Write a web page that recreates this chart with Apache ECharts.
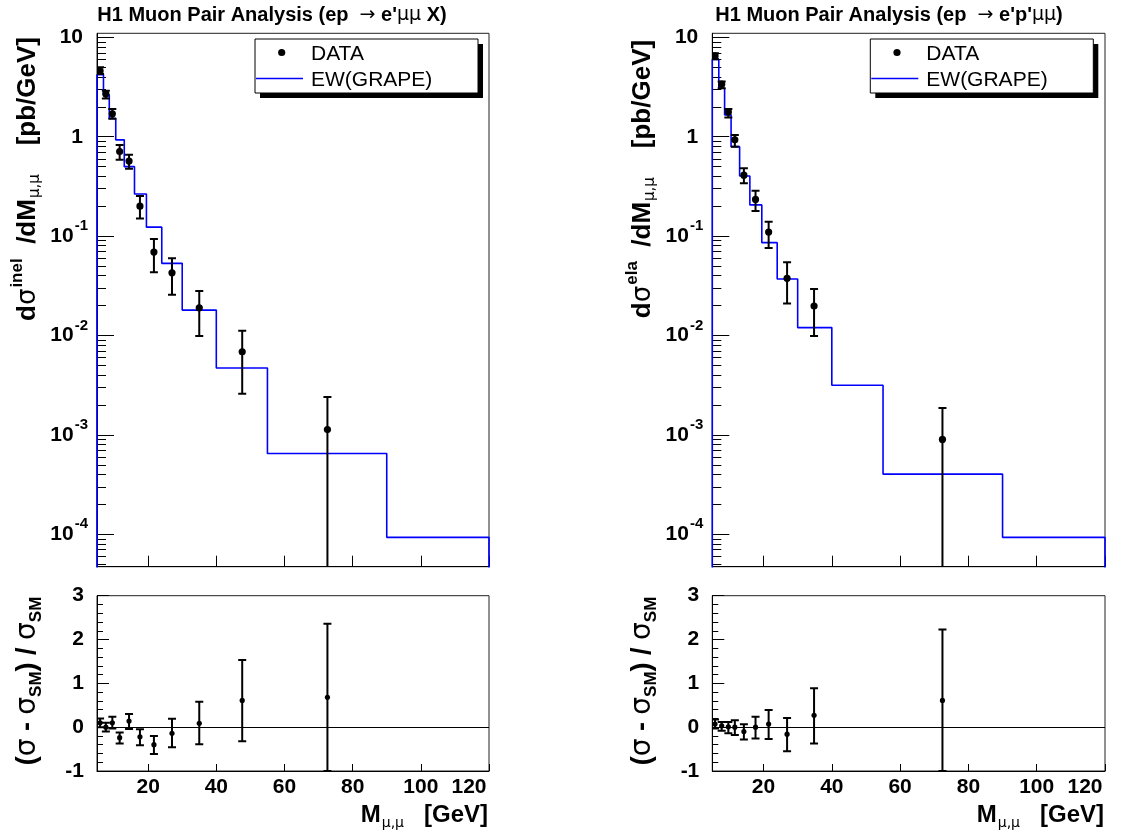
<!DOCTYPE html>
<html><head><meta charset="utf-8">
<script src="https://cdn.jsdelivr.net/npm/echarts@6/dist/echarts.min.js"></script>
<style>html,body{margin:0;padding:0;background:#fff}#c{width:1131px;height:838px}</style>
</head><body><div id="c"></div><script>
// ---------- data ----------
const binEdges = [5, 6.9, 8.6, 10.5, 13, 16, 19.5, 24, 30, 40, 55, 90, 120];
const xTickValues = [20, 40, 60, 80, 100, 120];
const logMajor = [1e-4, 1e-3, 1e-2, 1e-1, 1, 10];
const ratioTicks = [-1, 0, 1, 2, 3];

// inelastic (left)
const inelMass   = [5.9, 7.6, 9.5, 11.65, 14.4, 17.6, 21.7, 27.0, 35.0, 47.6, 72.6];
const inelXsec   = [4.6, 2.7, 1.70, 0.71, 0.57, 0.20, 0.069, 0.0428, 0.019, 0.00686, 0.00113];
const inelErrHi  = [5.0, 2.91, 1.905, 0.826, 0.66, 0.253, 0.0935, 0.0597, 0.028, 0.01114, 0.0024];
const inelErrLo  = [4.29, 2.42, 1.52, 0.587, 0.477, 0.150, 0.0432, 0.0257, 0.00986, 0.00259, 0];
const inelGrape  = [4.2, 2.65, 1.53, 0.93, 0.50, 0.265, 0.123, 0.0532, 0.018, 0.0047, 0.00065, 9.3e-5];
const inelRatio  = [0.10, 0.0, 0.10, -0.24, 0.14, -0.22, -0.40, -0.14, 0.09, 0.61, 0.68];
const inelRatHi  = [0.20, 0.10, 0.24, -0.12, 0.30, -0.05, -0.20, 0.19, 0.58, 1.53, 2.36];
const inelRatLo  = [0.0, -0.10, -0.03, -0.37, -0.04, -0.41, -0.61, -0.46, -0.39, -0.32, -1.0];

// elastic (right)
const elaMass    = [5.8, 7.75, 9.7, 11.6, 14.25, 17.66, 21.5, 26.9, 34.8, 72.4];
const elaXsec    = [6.5, 3.38, 1.77, 0.93, 0.41, 0.234, 0.11, 0.0376, 0.0198, 0.0009];
const elaErrHi   = [6.93, 3.59, 1.905, 1.04, 0.482, 0.286, 0.1396, 0.0545, 0.0293, 0.00186];
const elaErrLo   = [6.03, 3.08, 1.56, 0.795, 0.34, 0.179, 0.0759, 0.021, 0.0099, 0];
const elaGrape   = [6.0, 3.08, 1.66, 0.795, 0.403, 0.206, 0.0859, 0.0370, 0.0120, 0.00316, 0.000402, 9.3e-5];
const elaRatio   = [0.07, 0.03, 0.01, 0.0, -0.10, 0.0, 0.07, -0.16, 0.27, 0.61];
const elaRatHi   = [0.175, 0.12, 0.12, 0.16, 0.068, 0.24, 0.39, 0.21, 0.89, 2.23];
const elaRatLo   = [-0.03, -0.084, -0.14, -0.18, -0.28, -0.26, -0.27, -0.55, -0.37, -1.0];

// ---------- helpers ----------
const FONT = '"Liberation Sans", Arial, Helvetica, sans-serif';
const SYM = '"DejaVu Sans", sans-serif';
const YMIN = 4.71e-5, YMAX = 10.99;
const logMinor = [];
for (let e = -5; e <= 1; e++) for (let m = 2; m <= 9; m++) {
  const v = m * Math.pow(10, e);
  if (v > YMIN && v < YMAX) logMinor.push(v);
}

function histData(values) {
  const d = [[binEdges[0], 1e-9]];
  values.forEach((v, i) => d.push([binEdges[i], v]));
  d.push([binEdges[binEdges.length - 1], values[values.length - 1]]);
  d.push([binEdges[binEdges.length - 1], 1e-9]);
  return d;
}
function errData(xs, ys, lo, hi) { return xs.map((x, i) => [x, ys[i], lo[i], hi[i]]); }

function errRender(cap, r, logAxis) {
  return function (params, api) {
    const x = api.value(0), y = api.value(1);
    let lo = api.value(2), hi = api.value(3);
    if (logAxis && lo <= 0) lo = 1e-9;
    const pH = api.coord([x, hi]), pL = api.coord([x, lo]), p = api.coord([x, y]);
    const st = { stroke: '#000', lineWidth: 2 };
    return { type: 'group', children: [
      { type: 'line', shape: { x1: pH[0], y1: pH[1], x2: pL[0], y2: pL[1] }, style: st },
      { type: 'line', shape: { x1: pH[0] - cap, y1: pH[1], x2: pH[0] + cap, y2: pH[1] }, style: st },
      { type: 'line', shape: { x1: pL[0] - cap, y1: pL[1], x2: pL[0] + cap, y2: pL[1] }, style: st },
      { type: 'circle', shape: { cx: p[0], cy: p[1], r: r }, style: { fill: '#000' } }
    ] };
  };
}

const gridBase = { show: true, borderColor: '#222', borderWidth: 1, backgroundColor: 'transparent', containLabel: false, outerBoundsMode: 'none' };
const grids = [
  Object.assign({ left: 97, top: 33.3, width: 392, height: 533.4 }, gridBase),
  Object.assign({ left: 97, top: 595.7, width: 392, height: 175.3 }, gridBase),
  Object.assign({ left: 712.3, top: 33.3, width: 392.7, height: 533.4 }, gridBase),
  Object.assign({ left: 712.3, top: 595.7, width: 392.7, height: 175.3 }, gridBase)
];

function xAxis(gi, labels) {
  return {
    type: 'value', gridIndex: gi, min: 5, max: 120, position: 'bottom',
    axisLine: { show: true, onZero: false, lineStyle: { color: '#000', width: 1 } },
    axisTick: { show: true, inside: true, length: labels ? 7 : 11, customValues: xTickValues, lineStyle: { color: '#000', width: 1 } },
    axisLabel: {
      show: labels, customValues: xTickValues, margin: 6, color: '#000',
      formatter: v => v === 120 ? '{r|120}' : '{n|' + v + '}',
      rich: {
        n: { fontFamily: FONT, fontWeight: 'bold', fontSize: 21, color: '#000' },
        r: { fontFamily: FONT, fontWeight: 'bold', fontSize: 21, color: '#000', padding: [0, 40, 0, 0] }
      }
    },
    splitLine: { show: false }
  };
}

function logAxisMajor(gi) {
  return {
    type: 'log', logBase: 10, gridIndex: gi, min: YMIN, max: YMAX, position: 'left', offset: 0,
    axisLine: { show: true, onZero: false, lineStyle: { color: '#000', width: 1 } },
    axisTick: { show: true, inside: true, length: 17, customValues: logMajor, lineStyle: { color: '#000', width: 1 } },
    axisLabel: {
      show: true, customValues: logMajor, margin: 9, color: '#000',
      formatter: v => {
        const e = Math.round(Math.log10(v));
        if (e === 1) return '{p|10}';
        if (e === 0) return '{p|1}';
        return '{b|10}{s|' + e + '}';
      },
      rich: {
        p: { fontFamily: FONT, fontWeight: 'bold', fontSize: 21, color: '#000', padding: [0, 5, 0, 0] },
        b: { fontFamily: FONT, fontWeight: 'bold', fontSize: 21, color: '#000' },
        s: { fontFamily: FONT, fontWeight: 'bold', fontSize: 15, color: '#000', padding: [0, 0, 20, 1] }
      }
    },
    splitLine: { show: false }
  };
}
function logAxisMinor(gi) {
  return {
    type: 'log', logBase: 10, gridIndex: gi, min: YMIN, max: YMAX, position: 'left', offset: 0,
    axisLine: { show: false },
    axisTick: { show: true, inside: true, length: 9, customValues: logMinor, lineStyle: { color: '#000', width: 1 } },
    axisLabel: { show: false },
    splitLine: { show: false }
  };
}
function ratioAxis(gi) {
  return {
    type: 'value', gridIndex: gi, min: -1, max: 3, interval: 1, position: 'left',
    axisLine: { show: true, onZero: false, lineStyle: { color: '#000', width: 1 } },
    axisTick: { show: true, inside: true, length: 12, lineStyle: { color: '#000', width: 1 } },
    minorTick: { show: true, splitNumber: 5, length: 6, lineStyle: { color: '#000', width: 1 } },
    axisLabel: { show: true, margin: 13, color: '#000', fontFamily: FONT, fontWeight: 'bold', fontSize: 21 },
    splitLine: { show: false }
  };
}

function histSeries(xi, yi, vals) {
  return { type: 'line', xAxisIndex: xi, yAxisIndex: yi, step: 'end', symbol: 'none', silent: true, clip: true,
    lineStyle: { color: '#0000ff', width: 1.6 }, data: histData(vals), z: 3 };
}
function errSeries(xi, yi, data, cap, r, logAxis, zeroLine) {
  const s = { type: 'custom', xAxisIndex: xi, yAxisIndex: yi, clip: true, silent: true, z: 4,
    renderItem: errRender(cap, r, logAxis), encode: { x: 0, y: 1 }, data: data };
  if (zeroLine) s.markLine = { silent: true, symbol: 'none', label: { show: false },
    lineStyle: { color: '#000', width: 1, type: 'solid' }, data: [{ yAxis: 0 }] };
  return s;
}

// ---------- graphics (titles, axis titles, legends) ----------
const rb = (sz) => ({ fontFamily: FONT, fontWeight: 'bold', fontSize: sz, fill: '#000', color: '#000' });
const rs = (sz) => ({ fontFamily: SYM, fontWeight: 'normal', fontSize: sz, fill: '#000', color: '#000' });

function textEl(x, y, text, rich, align, rot) {
  return { type: 'text', x: x, y: y, rotation: rot || 0, silent: true,
    style: { text: text, rich: rich, align: align || 'center', verticalAlign: 'middle',
      textAlign: align || 'center', textVerticalAlign: 'middle', fill: '#000' } };
}
const titleRich = { b: rb(20), g: rs(19) };
const yTopRich = {
  b: rb(26), g: rs(26),
  sup: Object.assign(rb(17), { padding: [0, 0, 22, 1] }),
  sub: Object.assign(rs(15), { padding: [15, 0, 0, 1] })
};
const yBotRich = {
  b: rb(27), g: rs(28),
  sub: Object.assign(rb(17), { padding: [16, 0, 0, 0] })
};
const xTitleRich = { b: rb(24), sub: Object.assign(rs(14), { padding: [16, 0, 0, 1] }) };

function legend(dx) {
  const lt = { t: { fontFamily: FONT, fontSize: 21, fill: '#000', color: '#000' } };
  return [
    { type: 'rect', silent: true, shape: { x: 260 + dx, y: 44, width: 223, height: 54 }, style: { fill: '#000' } },
    { type: 'rect', silent: true, shape: { x: 255 + dx, y: 39, width: 223, height: 54 }, style: { fill: '#fff', stroke: '#000', lineWidth: 1 } },
    { type: 'circle', silent: true, shape: { cx: 281.7 + dx, cy: 52.5, r: 3.6 }, style: { fill: '#000' } },
    { type: 'line', silent: true, shape: { x1: 256 + dx, y1: 78.5, x2: 303 + dx, y2: 78.5 }, style: { stroke: '#0000ff', lineWidth: 1.6 } },
    textEl(311 + dx, 54, '{t|DATA}', lt, 'left'),
    textEl(311 + dx, 80, '{t|EW(GRAPE)}', lt, 'left')
  ];
}

const R = Math.PI / 2;
const graphics = [].concat(
  [
    textEl(272, 15, "{b|H1 Muon Pair Analysis (ep  }{g|→}{b| e'}{g|μμ}{b| X)}", titleRich, 'center'),
    textEl(889, 15, "{b|H1 Muon Pair Analysis (ep  }{g|→}{b| e'p'}{g|μμ}{b|)}", titleRich, 'center'),
    textEl(28, 179, '{b|d}{g|σ}{sup|inel}{b|  /dM}{sub|μ,μ}{b|    [pb/GeV]}', yTopRich, 'center', R),
    textEl(643, 179, '{b|d}{g|σ}{sup|ela}{b|  /dM}{sub|μ,μ}{b|    [pb/GeV]}', yTopRich, 'center', R),
    textEl(28, 681, '{b|(}{g|σ}{b| - }{g|σ}{sub|SM}{b|) / }{g|σ}{sub|SM}', yBotRich, 'center', R),
    textEl(643, 681, '{b|(}{g|σ}{b| - }{g|σ}{sub|SM}{b|) / }{g|σ}{sub|SM}', yBotRich, 'center', R),
    textEl(488, 815, '{b|M}{sub|μ,μ}{b|   [GeV]}', xTitleRich, 'right'),
    textEl(1104, 815, '{b|M}{sub|μ,μ}{b|   [GeV]}', xTitleRich, 'right')
  ],
  legend(0),
  legend(615.3)
);

const option = {
  animation: false,
  backgroundColor: '#fff',
  textStyle: { fontFamily: FONT },
  grid: grids,
  xAxis: [xAxis(0, false), xAxis(1, true), xAxis(2, false), xAxis(3, true)],
  yAxis: [logAxisMajor(0), logAxisMinor(0), ratioAxis(1), logAxisMajor(2), logAxisMinor(2), ratioAxis(3)],
  series: [
    histSeries(0, 0, inelGrape),
    errSeries(0, 0, errData(inelMass, inelXsec, inelErrLo, inelErrHi), 4, 3.6, true, false),
    errSeries(1, 2, errData(inelMass, inelRatio, inelRatLo, inelRatHi), 4, 2.6, false, true),
    histSeries(2, 3, elaGrape),
    errSeries(2, 3, errData(elaMass, elaXsec, elaErrLo, elaErrHi), 4, 3.6, true, false),
    errSeries(3, 5, errData(elaMass, elaRatio, elaRatLo, elaRatHi), 4, 2.6, false, true)
  ],
  graphic: graphics
};
const chart = echarts.init(document.getElementById('c'));
chart.setOption(option);
</script></body></html>
